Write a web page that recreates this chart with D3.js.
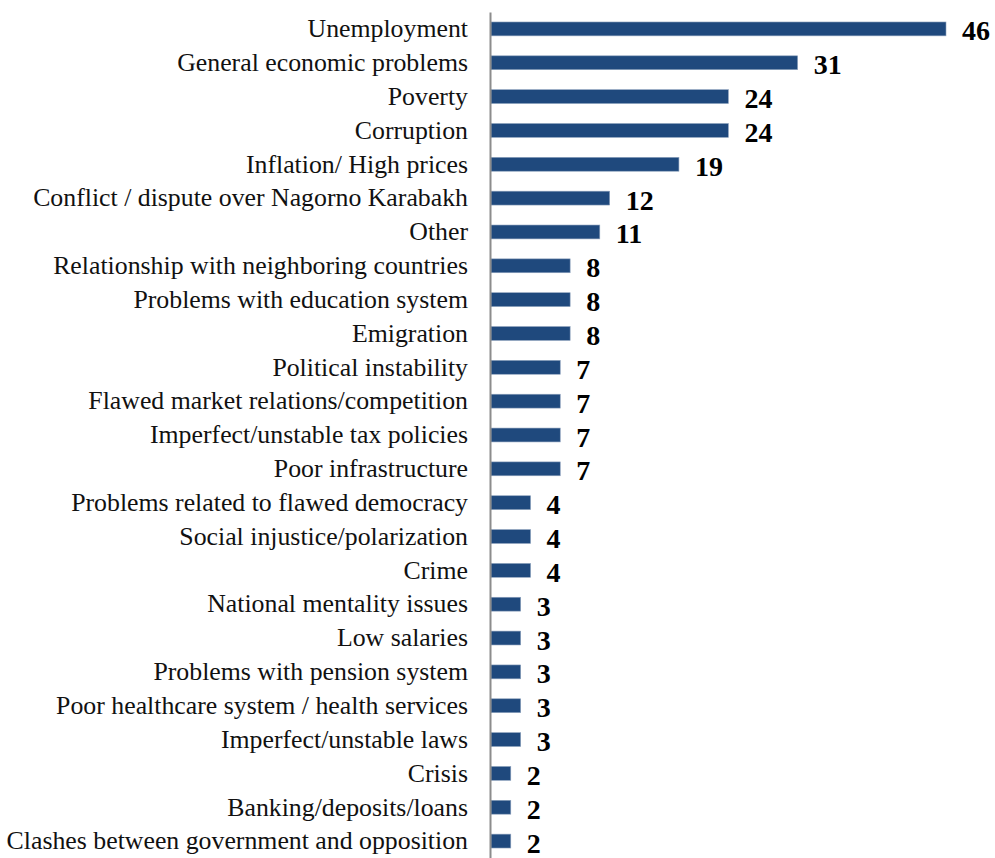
<!DOCTYPE html>
<html>
<head>
<meta charset="utf-8">
<script src="https://cdn.jsdelivr.net/npm/d3@7"></script>
<style>
  html, body { margin: 0; padding: 0; background: #fff; }
  svg { display: block; }
</style>
</head>
<body>
<svg id="chart" width="995" height="858"></svg>
<script>
// Most important problems facing the country (% of respondents)
const categories = [
  "Unemployment",
  "General economic problems",
  "Poverty",
  "Corruption",
  "Inflation/ High prices",
  "Conflict / dispute over Nagorno Karabakh",
  "Other",
  "Relationship with neighboring countries",
  "Problems with education system",
  "Emigration",
  "Political instability",
  "Flawed market relations/competition",
  "Imperfect/unstable tax policies",
  "Poor infrastructure",
  "Problems related to flawed democracy",
  "Social injustice/polarization",
  "Crime",
  "National mentality issues",
  "Low salaries",
  "Problems with pension system",
  "Poor healthcare system / health services",
  "Imperfect/unstable laws",
  "Crisis",
  "Banking/deposits/loans",
  "Clashes between government and opposition"
];
const values = [46, 31, 24, 24, 19, 12, 11, 8, 8, 8, 7, 7, 7, 7, 4, 4, 4, 3, 3, 3, 3, 3, 2, 2, 2];

const data = categories.map((c, i) => ({ category: c, value: values[i] }));

const svg = d3.select("#chart");
const axisX = 490;

const x = d3.scaleLinear().domain([0, 46]).range([axisX + 1, 946]);
const y = d3.scaleBand().domain(categories).range([12, 858]).paddingInner(0.59).paddingOuter(0.295);

// bars
svg.append("g")
  .selectAll("rect")
  .data(data)
  .join("rect")
  .attr("x", x(0))
  .attr("y", d => y(d.category))
  .attr("width", d => x(d.value) - x(0))
  .attr("height", y.bandwidth())
  .attr("fill", "#1f497d")
  .attr("stroke", "#8ea2bd")
  .attr("stroke-width", 0.6);

// category axis (no ticks)
const yAxis = d3.axisLeft(y).tickSize(0).tickPadding(22);
const gy = svg.append("g")
  .attr("transform", `translate(${axisX},0)`)
  .call(yAxis);
gy.select(".domain").attr("stroke", "#8c8c8c").attr("stroke-width", 2);
gy.selectAll("text")
  .attr("font-family", "'Liberation Serif', 'Times New Roman', serif")
  .attr("font-size", 25.8)
  .attr("fill", "#111")
  .attr("dy", "0.32em");

// value labels
svg.append("g")
  .selectAll("text")
  .data(data)
  .join("text")
  .attr("x", d => x(d.value) + 16)
  .attr("y", d => y(d.category) + y.bandwidth() / 2 + 11.5)
  .attr("font-family", "'Liberation Serif', 'Times New Roman', serif")
  .attr("font-weight", "bold")
  .attr("font-size", 28)
  .attr("fill", "#000")
  .text(d => d.value);
</script>
</body>
</html>
